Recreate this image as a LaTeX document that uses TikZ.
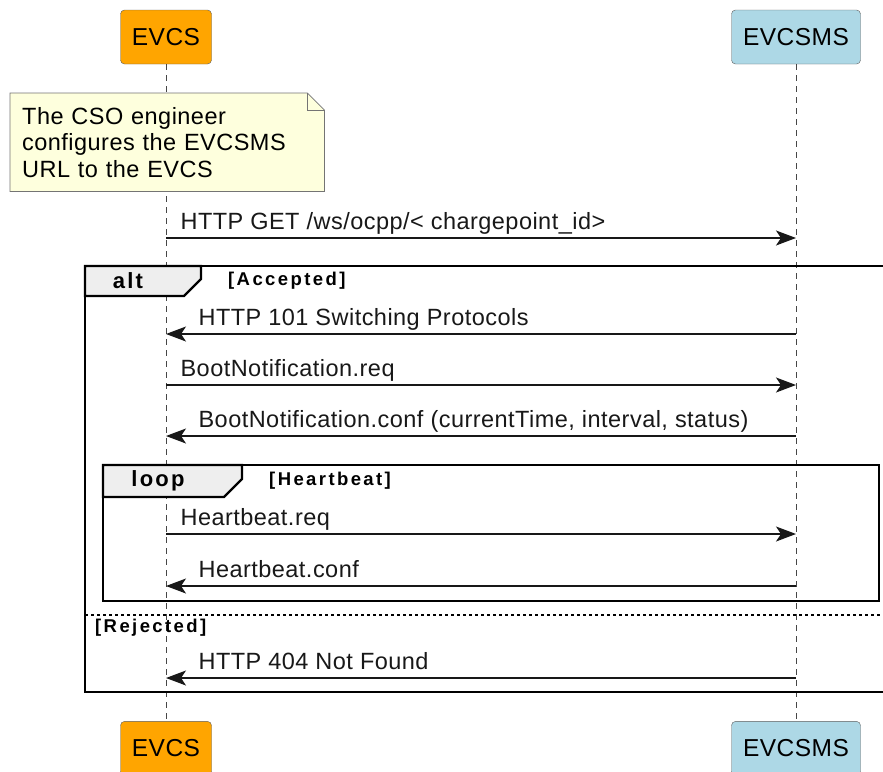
\documentclass[tikz,border=0pt]{standalone}
\usepackage{fontspec}
\setmainfont{Liberation Sans}[LetterSpace=2]
\newfontfamily\tabfont[LetterSpace=10]{Liberation Sans}
\newfontfamily\guardfont[LetterSpace=13]{Liberation Sans}
\usetikzlibrary{arrows.meta,positioning}

\definecolor{evcsorange}{HTML}{FFA500}
\definecolor{smsblue}{HTML}{ADD8E6}
\definecolor{notefill}{HTML}{FEFFDD}
\definecolor{tabgray}{HTML}{EEEEEE}
\definecolor{ink}{HTML}{181818}

\tikzset{
  actor/.style={draw=ink!70, rounded corners=4pt, minimum height=54pt,
    inner xsep=10pt, font=\fontsize{24.5}{26}\selectfont},
  life/.style={draw=ink!80, dash pattern=on 6pt off 5pt, line width=0.8pt},
  msg/.style={color=ink, line width=1.2pt,
    -{Stealth[length=20pt,width=15pt,inset=5pt]}},
  lbl/.style={anchor=base west, inner sep=0pt, yshift=9pt,
    font=\fontsize{23.5}{26}\selectfont},
  frame/.style={draw=black, line width=2.2pt},
  tab/.style={frame, fill=tabgray},
  tabtext/.style={inner sep=0pt, font=\tabfont\bfseries\fontsize{22}{24}\selectfont},
  guard/.style={anchor=west, inner sep=0pt,
    font=\guardfont\bfseries\fontsize{18.5}{20}\selectfont}
}

\begin{document}
\begin{tikzpicture}[x=1pt, y=-1pt]
\useasboundingbox (0,0) rectangle (883,771);

% participants
\node [actor, fill=evcsorange, minimum width=91pt] (evcs) at (166,37) {EVCS};
\node [actor, fill=smsblue, minimum width=129pt] (evcsms) at (796,37) {EVCSMS};
\node [actor, fill=evcsorange, minimum width=91pt] (evcs2) [below=657pt of evcs] {EVCS};
\node [actor, fill=smsblue, minimum width=129pt] (evcsms2) [below=657pt of evcsms] {EVCSMS};

\draw [life] (evcs) -- (evcs2);
\draw [life] (evcsms) -- (evcsms2);

% note
\node [fill=notefill, anchor=north west, text width=290pt, minimum height=98pt,
  inner xsep=12pt, align=left, font=\fontsize{23.5}{26.5}\selectfont]
  (cfgnote) at (10,93) {The CSO engineer\\configures the EVCSMS\\URL to the EVCS};
\fill [white] ([xshift=-17pt]cfgnote.north east) -- (cfgnote.north east)
  -- ([yshift=-17pt]cfgnote.north east) -- cycle;
\draw [draw=ink!60, line width=0.8pt] (cfgnote.north west)
  -- ([xshift=-17pt]cfgnote.north east) -- ([yshift=-17pt]cfgnote.north east)
  -- (cfgnote.south east) -- (cfgnote.south west) -- cycle;
\draw [draw=ink!60, line width=0.8pt] ([xshift=-17pt]cfgnote.north east)
  |- ([yshift=-17pt]cfgnote.north east);

% alt frame
\draw [frame] (85,266) rectangle (895,692);
\draw [tab] (85,266) -- (201,266) -- (201,279) -- (184,296) -- (85,296) -- cycle;
\node [tabtext] (alttag) at (128,281) {alt};
\node [guard] (accepted) at (228,281) {[Accepted]};
\draw [draw=black, line width=1.2pt, dash pattern=on 3pt off 3pt] (85,615) -- (895,615);
\node [guard] (rejected) at (95,628) {[Rejected]};

% loop frame
\draw [frame] (103,465) rectangle (879,601);
\draw [tab] (103,465) -- (242,465) -- (242,479) -- (224,497) -- (103,497) -- cycle;
\node [tabtext] (looptag) at (158,481) {loop};
\node [guard] (heartbeat) at (269,481) {[Heartbeat]};

% messages
\foreach \n/\y in {get/238, sw/334, bnreq/385, bnconf/436, hbreq/534, hbconf/586, nf/678} {
  \coordinate (\n-l) at (evcs |- 0,\y);
  \coordinate (\n-r) at (evcsms |- 0,\y);
}
\path [msg]
(get-l) edge node [lbl, at start, xshift=14pt] {HTTP GET /ws/ocpp/< chargepoint\_id>} (get-r)
(sw-r) edge node [lbl, at end, xshift=32pt] {HTTP 101 Switching Protocols} (sw-l)
(bnreq-l) edge node [lbl, at start, xshift=14pt] {BootNotification.req} (bnreq-r)
(bnconf-r) edge node [lbl, at end, xshift=32pt] {BootNotification.conf (currentTime, interval, status)} (bnconf-l)
(hbreq-l) edge node [lbl, at start, xshift=14pt] {Heartbeat.req} (hbreq-r)
(hbconf-r) edge node [lbl, at end, xshift=32pt] {Heartbeat.conf} (hbconf-l)
(nf-r) edge node [lbl, at end, xshift=32pt] {HTTP 404 Not Found} (nf-l);
\end{tikzpicture}
\end{document}
